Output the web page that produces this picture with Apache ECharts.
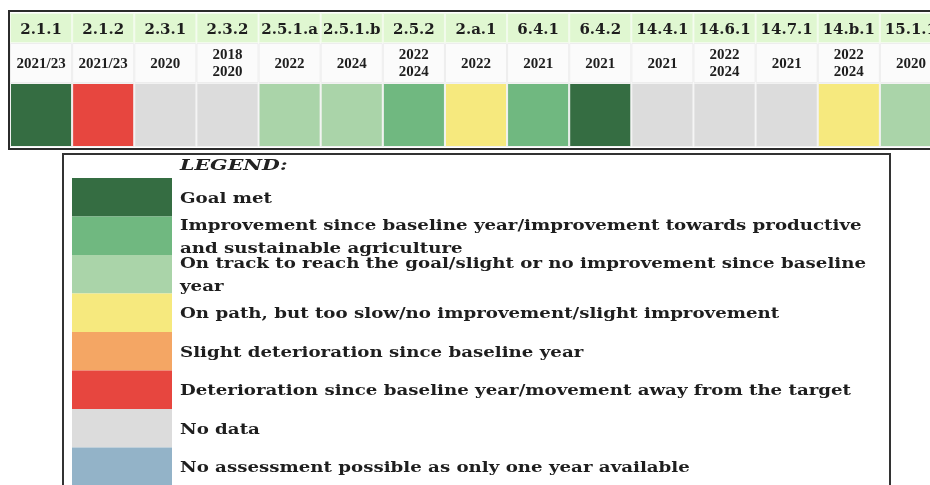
<!DOCTYPE html>
<html>
<head>
<meta charset="utf-8">
<script src="https://cdn.jsdelivr.net/npm/echarts@6/dist/echarts.min.js"></script>
<style>
html,body{margin:0;padding:0;background:#fff}
#chart{width:930px;height:485px}
</style>
</head>
<body>
<div id="chart"></div>
<script>
// indicator codes, reference years and assessment of each column
var codes = ['2.1.1','2.1.2','2.3.1','2.3.2','2.5.1.a','2.5.1.b','2.5.2','2.a.1','6.4.1','6.4.2','14.4.1','14.6.1','14.7.1','14.b.1','15.1.1'];
var years = ['2021/23','2021/23','2020','2018\n2020','2022','2024','2022\n2024','2022','2021','2021','2021','2022\n2024','2021','2022\n2024','2020'];
var cellStatus = ['goal','deter','nodata','nodata','track','track','improve','path','improve','goal','nodata','nodata','nodata','path','track'];

// legend
var legendKeys = ['goal','improve','track','path','slight','deter','nodata','noassess'];
var legendColors = ['#356d42','#70b880','#aad4a9','#f6e97e','#f4a664','#e7463f','#dcdcdc','#93b3c8'];
var legendText = [
    'Goal met',
    'Improvement since baseline year/improvement towards productive\nand sustainable agriculture',
    'On track to reach the goal/slight or no improvement since baseline\nyear',
    'On path, but too slow/no improvement/slight improvement',
    'Slight deterioration since baseline year',
    'Deterioration since baseline year/movement away from the target',
    'No data',
    'No assessment possible as only one year available'
];

var colorOf = {};
legendKeys.forEach(function (k, i) { colorOf[k] = legendColors[i]; });

var serif = '"DejaVu Serif", serif';
var myChart = echarts.init(document.getElementById('chart'));

var option = {
    backgroundColor: '#ffffff',
    animation: false,
    grid: [
        {left: 10, top: 13, width: 932, height: 30, outerBoundsMode: 'none'},   // code row
        {left: 10, top: 43, width: 932, height: 40, outerBoundsMode: 'none'},   // year row
        {left: 10, top: 83, width: 932, height: 64, outerBoundsMode: 'none'},   // status row
        {left: 72, top: 178, width: 100, height: 308, outerBoundsMode: 'none'}, // legend swatches
        {left: 9, top: 11, width: 940, height: 138, show: true, z: 10, outerBoundsMode: 'none',
            borderColor: '#2b2b2b', borderWidth: 2, backgroundColor: 'transparent'},
        {left: 63, top: 154, width: 827, height: 345, show: true, z: 10, outerBoundsMode: 'none',
            borderColor: '#333', borderWidth: 2, backgroundColor: 'transparent'}
    ],
    xAxis: [
        {gridIndex: 0, type: 'category', data: codes, show: false},
        {gridIndex: 1, type: 'category', data: codes, show: false},
        {gridIndex: 2, type: 'category', data: codes, show: false},
        {gridIndex: 3, type: 'value', min: 0, max: 1, show: false},
        {gridIndex: 4, type: 'value', show: false},
        {gridIndex: 5, type: 'value', show: false}
    ],
    yAxis: [
        {gridIndex: 0, type: 'value', min: 0, max: 1, show: false},
        {gridIndex: 1, type: 'value', min: 0, max: 1, show: false},
        {gridIndex: 2, type: 'value', min: 0, max: 1, show: false},
        {gridIndex: 3, type: 'category', data: legendKeys, inverse: true, show: false},
        {gridIndex: 4, type: 'value', show: false},
        {gridIndex: 5, type: 'value', show: false}
    ],
    series: [
        {
            type: 'bar', xAxisIndex: 0, yAxisIndex: 0, barCategoryGap: 0,
            data: codes.map(function () { return 1; }),
            itemStyle: {color: '#e0f7d1', borderColor: '#f2fbec', borderWidth: 1},
            label: {
                show: true, position: 'inside', offset: [0, 2], formatter: '{b}',
                fontFamily: serif, fontWeight: 'bold', fontSize: 15, color: '#1e1e1e'
            }
        },
        {
            type: 'bar', xAxisIndex: 1, yAxisIndex: 1, barCategoryGap: 0,
            data: years.map(function () { return 1; }),
            itemStyle: {color: '#fbfbfb', borderColor: '#ededed', borderWidth: 1},
            label: {
                show: true, position: 'inside', offset: [0, 1],
                formatter: function (p) { return years[p.dataIndex]; },
                fontFamily: '"Liberation Serif", serif', fontWeight: 'bold', fontSize: 15,
                lineHeight: 17, color: '#1e1e1e'
            }
        },
        {
            type: 'bar', xAxisIndex: 2, yAxisIndex: 2, barCategoryGap: 0,
            data: cellStatus.map(function (s) { return {value: 1, itemStyle: {color: colorOf[s]}}; }),
            itemStyle: {borderColor: '#f2f2f2', borderWidth: 1}
        },
        {
            type: 'bar', xAxisIndex: 3, yAxisIndex: 3, barCategoryGap: 0,
            data: legendColors.map(function (c) { return {value: 1, itemStyle: {color: c}}; })
        }
    ]
};

myChart.setOption(option);

// legend texts next to the swatches, the source type is wide so stretch it a bit
var texts = [{
    type: 'text', x: 180, y: 166, scaleX: 1.37, z: 20,
    style: {text: 'LEGEND:', font: 'italic bold 15px ' + serif, fill: '#222', verticalAlign: 'middle'}
}];
legendKeys.forEach(function (k, i) {
    var pt = myChart.convertToPixel({gridIndex: 3}, [1, k]);
    texts.push({
        type: 'text', x: pt[0] + 8, y: pt[1] + 2, scaleX: 1.3, z: 20,
        style: {
            text: legendText[i], font: 'bold 14px ' + serif, fill: '#1e1e1e',
            lineHeight: 23, verticalAlign: 'middle'
        }
    });
});
myChart.setOption({graphic: texts});
</script>
</body>
</html>
